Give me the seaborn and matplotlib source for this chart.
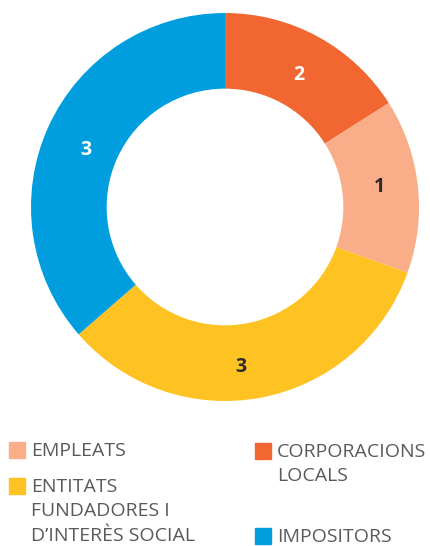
import numpy as np
import matplotlib
matplotlib.use("Agg")
import matplotlib.pyplot as plt
from matplotlib.patches import Rectangle
import seaborn as sns

# dades
categories = ["CORPORACIONS LOCALS", "EMPLEATS", "ENTITATS FUNDADORES I D\u2019INTERÈS SOCIAL", "IMPOSITORS"]
counts = [2, 1, 3, 3]
shares = [16.0, 14.5, 33.1, 36.4]  # mida dels sectors (% llegit del gràfic)
legend_labels = ["CORPORACIONS\nLOCALS", "EMPLEATS",
                 "ENTITATS\nFUNDADORES I\nD\u2019INTERÈS SOCIAL", "IMPOSITORS"]

sns.set_style("white")
plt.rcParams['font.family'] = ['Open Sans', 'DejaVu Sans']
colors = sns.color_palette(["#F26632", "#F9AE89", "#FEC222", "#009EDE"])
label_colors = ["white", "#2b2b2b", "#2b2b2b", "white"]
# ajust fi de la posició de les etiquetes (graus en sentit horari, radi)
label_shift = [0.5, -1.1, 5.0, -2.0]
label_radius = [0.78, 0.805, 0.83, 0.775]

fig = plt.figure(figsize=(4.30, 5.46), dpi=100)
R = 194
ax = fig.add_axes([(225 - R) / 430, 1 - (207 + R) / 546, 2 * R / 430, 2 * R / 546])

width = 0.39
wedges, _ = ax.pie(shares, colors=colors, startangle=90, counterclock=False,
                   radius=1, wedgeprops=dict(width=width, linewidth=0))
ax.set_aspect("equal")
ax.set_xlim(-1, 1)
ax.set_ylim(-1, 1)
ax.axis("off")

# etiquetes als sectors
for w, c, lc, sh, r in zip(wedges, counts, label_colors, label_shift, label_radius):
    ang = np.deg2rad((w.theta1 + w.theta2) / 2 - sh)
    ax.text(r * np.cos(ang), r * np.sin(ang), str(c), ha="center", va="center",
            color=lc, fontsize=14, fontweight="bold")

# llegenda manual
legend_pos = [(255, 443), (9, 442), (9, 478), (255, 528)]
text_color = "#5a5a5a"
for (x, y), lab, col in zip(legend_pos, legend_labels, colors):
    fig.patches.append(Rectangle((x / 430, 1 - (y + 16) / 546), 16 / 430, 16 / 546,
                                 transform=fig.transFigure, color=col, figure=fig))
    fig.text((x + 22) / 430, 1 - y / 546, lab, ha="left", va="top",
             fontsize=14, color=text_color, linespacing=1.45)

fig.savefig("out.png", dpi=100)
